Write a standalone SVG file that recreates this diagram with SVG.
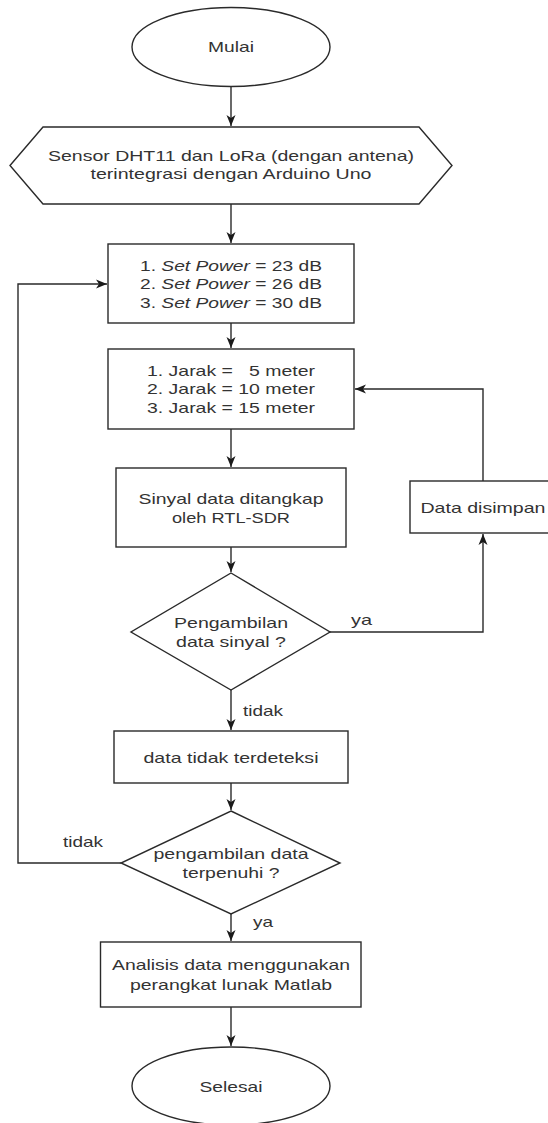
<svg xmlns="http://www.w3.org/2000/svg" width="548" height="1123" viewBox="0 0 548 1123">
<style>
.shape{fill:#fff;stroke:#2a2a2a;stroke-width:1.4}
.edge{fill:none;stroke:#2a2a2a;stroke-width:1.4}
text{font-family:"Liberation Sans",Arial,sans-serif;font-size:15px;fill:#333;text-anchor:middle}
.lbl{text-anchor:start}
</style>
<defs>
<marker id="arr" markerUnits="userSpaceOnUse" markerWidth="12" markerHeight="12" viewBox="0 0 12 12" refX="11" refY="6" orient="auto">
<path d="M0,1.5 L11,6 L0,10.5 L3,6 z" fill="#1a1a1a"/>
</marker>
</defs>
<rect width="548" height="1123" fill="#fff"/>
<g id="connectors">
<path class="edge" d="M231,86 V126" marker-end="url(#arr)"/>
<path class="edge" d="M231,204 V243" marker-end="url(#arr)"/>
<path class="edge" d="M231,323 V348" marker-end="url(#arr)"/>
<path class="edge" d="M231,429 V467" marker-end="url(#arr)"/>
<path class="edge" d="M231,547 V572" marker-end="url(#arr)"/>
<path class="edge" d="M231,690 V730" marker-end="url(#arr)"/>
<path class="edge" d="M231,783 V810" marker-end="url(#arr)"/>
<path class="edge" d="M231,914 V941" marker-end="url(#arr)"/>
<path class="edge" d="M231,1007 V1046" marker-end="url(#arr)"/>
<path class="edge" d="M121,863 H18 V284 H107" marker-end="url(#arr)"/>
<path class="edge" d="M330,632 H483 V534" marker-end="url(#arr)"/>
<path class="edge" d="M483,481 V389 H355" marker-end="url(#arr)"/>
<text class="lbl" x="243" y="716" textLength="40" lengthAdjust="spacingAndGlyphs">tidak</text>
<text class="lbl" x="351" y="625" textLength="21" lengthAdjust="spacingAndGlyphs">ya</text>
<text class="lbl" x="63" y="847" textLength="40" lengthAdjust="spacingAndGlyphs">tidak</text>
<text class="lbl" x="253" y="927" textLength="20" lengthAdjust="spacingAndGlyphs">ya</text>
</g>
<g id="mulai">
<ellipse class="shape" cx="231" cy="47" rx="99" ry="39.5"/>
<text x="231" y="52" textLength="46" lengthAdjust="spacingAndGlyphs">Mulai</text>
</g>
<g id="sensor">
<polygon class="shape" points="10,165.5 43,127 419,127 452,165.5 419,204 43,204"/>
<text x="231" y="161" textLength="366" lengthAdjust="spacingAndGlyphs">Sensor DHT11 dan LoRa (dengan antena)</text>
<text x="231" y="178.5" textLength="281" lengthAdjust="spacingAndGlyphs">terintegrasi dengan Arduino Uno</text>
</g>
<g id="setpower">
<rect class="shape" x="108" y="244" width="246" height="79"/>
<text x="231" y="270.5" textLength="182" lengthAdjust="spacingAndGlyphs">1. <tspan font-style="italic">Set Power</tspan> = 23 dB</text>
<text x="231" y="289" textLength="182" lengthAdjust="spacingAndGlyphs">2. <tspan font-style="italic">Set Power</tspan> = 26 dB</text>
<text x="231" y="307.5" textLength="182" lengthAdjust="spacingAndGlyphs">3. <tspan font-style="italic">Set Power</tspan> = 30 dB</text>
</g>
<g id="jarak">
<rect class="shape" x="108" y="349" width="246" height="80"/>
<text x="231" y="375.5" textLength="168" lengthAdjust="spacingAndGlyphs" xml:space="preserve">1. Jarak =   5 meter</text>
<text x="231" y="394" textLength="168" lengthAdjust="spacingAndGlyphs">2. Jarak = 10 meter</text>
<text x="231" y="412.5" textLength="168" lengthAdjust="spacingAndGlyphs">3. Jarak = 15 meter</text>
</g>
<g id="sinyal">
<rect class="shape" x="116" y="468" width="230" height="79"/>
<text x="231" y="503.5" textLength="185" lengthAdjust="spacingAndGlyphs">Sinyal data ditangkap</text>
<text x="231" y="522.5" textLength="118" lengthAdjust="spacingAndGlyphs">oleh RTL-SDR</text>
</g>
<g id="disimpan">
<rect class="shape" x="410" y="481" width="146" height="52"/>
<text x="483" y="512.5" textLength="125" lengthAdjust="spacingAndGlyphs">Data disimpan</text>
</g>
<g id="decision1">
<polygon class="shape" points="231,573 330,632 231,690 131,632"/>
<text x="231" y="627.5" textLength="114" lengthAdjust="spacingAndGlyphs">Pengambilan</text>
<text x="231" y="647" textLength="110" lengthAdjust="spacingAndGlyphs">data sinyal ?</text>
</g>
<g id="tidakterdeteksi">
<rect class="shape" x="114" y="731" width="234" height="52"/>
<text x="231" y="762.5" textLength="175" lengthAdjust="spacingAndGlyphs">data tidak terdeteksi</text>
</g>
<g id="decision2">
<polygon class="shape" points="231,811 340,863 231,914 121,863"/>
<text x="231" y="858.5" textLength="155" lengthAdjust="spacingAndGlyphs">pengambilan data</text>
<text x="231" y="878" textLength="97" lengthAdjust="spacingAndGlyphs">terpenuhi ?</text>
</g>
<g id="analisis">
<rect class="shape" x="100.5" y="942" width="260.5" height="65"/>
<text x="231" y="969.5" textLength="238" lengthAdjust="spacingAndGlyphs">Analisis data menggunakan</text>
<text x="231" y="989.5" textLength="202" lengthAdjust="spacingAndGlyphs">perangkat lunak Matlab</text>
</g>
<g id="selesai">
<ellipse class="shape" cx="231" cy="1086" rx="99" ry="39"/>
<text x="231" y="1091.5" textLength="63" lengthAdjust="spacingAndGlyphs">Selesai</text>
</g>
</svg>
